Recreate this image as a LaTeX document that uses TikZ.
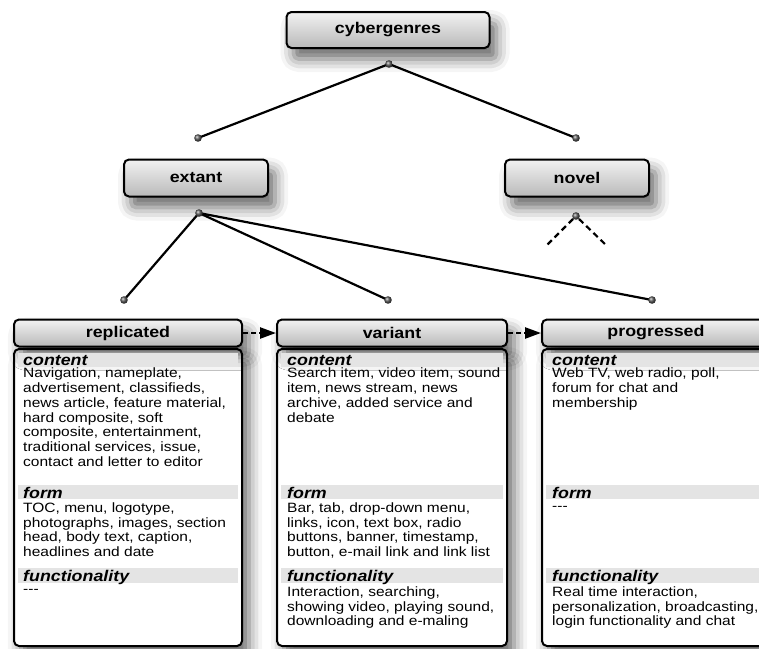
\documentclass[tikz,border=0pt]{standalone}
\usepackage{fontspec}
\setmainfont{Liberation Sans}
\newfontfamily\bodyfont[FakeStretch=1.15]{Liberation Sans}
\newfontfamily\headfont[FakeStretch=1.15]{Liberation Sans}
\usetikzlibrary{arrows.meta,shadows.blur}
\definecolor{bandgray}{RGB}{228,228,228}

\begin{document}
\begin{tikzpicture}[x=1pt,y=-1pt,
    softshadow/.style={blur shadow={shadow xshift=7pt,shadow yshift=-11pt,
        shadow blur radius=13pt,shadow opacity=60}},
    head/.style={draw=black,line width=2pt,rounded corners=5pt,
      top color=gray!10,bottom color=gray!55,softshadow,
      font=\headfont\bfseries\fontsize{15.5}{18}\selectfont},
    body/.style={draw=black,line width=2pt,rounded corners=5pt,fill=white,
      softshadow,minimum width=228pt,minimum height=297pt,anchor=north},
    band/.style={fill=bandgray},
    sect/.style={anchor=base west,inner sep=0pt,
      font=\headfont\bfseries\itshape\fontsize{15.5}{18}\selectfont},
    txt/.style={anchor=north west,inner sep=0pt,align=left,
      font=\bodyfont\fontsize{13.5}{14.7}\selectfont},
    conn/.style={line width=2.2pt},
    flow/.style={line width=2.4pt,dash pattern=on 5pt off 3pt,
      -{Triangle[length=16pt,width=11pt]}},
    knob/.style={ball color=gray!70!black}]
  \useasboundingbox (0,0) rectangle (759,648);

  % tree
  \node[head,minimum width=203pt,minimum height=36pt] (cyber) at (388,30) {cybergenres};
  \node[head,minimum width=144pt,minimum height=37pt] (extant) at (196,178) {extant};
  \node[head,minimum width=144pt,minimum height=37pt] (novel) at (577,178) {novel};

  \coordinate (cgdot) at (389,64);
  \coordinate (exdot) at (198,138);
  \coordinate (nvdot) at (576,138);
  \coordinate (exsub) at (199,213);
  \coordinate (nvsub) at (576,216);
  \coordinate (repdot) at (124,300);
  \coordinate (vardot) at (388,300);
  \coordinate (prodot) at (652,300);
  \coordinate (nvl) at (546,246);
  \coordinate (nvr) at (607,246);

  \draw[conn] (exdot) -- (cgdot) -- (nvdot);
  \draw[conn] (exsub) -- (repdot);
  \draw[conn] (exsub) -- (vardot);
  \draw[conn] (exsub) -- (prodot);
  \draw[conn,dash pattern=on 6pt off 4pt] (nvsub) ++(-3,3) -- (nvl);
  \draw[conn,dash pattern=on 6pt off 4pt] (nvsub) ++(3,3) -- (nvr);
  \foreach \d in {cgdot,exdot,nvdot,exsub,nvsub,repdot,vardot,prodot}
    \shade[knob] (\d) circle (3.8pt);

  % columns
  \node[body] (repbody) at (128,348) {};
  \node[body,minimum width=230pt] (varbody) at (392,348) {};
  \node[body] (probody) at (656,348) {};
  \node[head,minimum width=228pt,minimum height=27pt] (rephead) at (128,333) {replicated};
  \node[head,minimum width=230pt,minimum height=27pt] (varhead) at (392,333) {variant};
  \node[head,minimum width=228pt,minimum height=27pt] (prohead) at (656,333) {progressed};
  \draw[flow] (rephead) -- (varhead);
  \draw[flow] (varhead) -- (prohead);

  \foreach \xl/\xr in {18/238,281/503,546/770} {
    \fill[band] (\xl,353) rectangle (\xr,367);
    \fill[band] (\xl,485) rectangle (\xr,499);
    \fill[band] (\xl,568) rectangle (\xr,583);
  }
  \foreach \xt in {23,287,552} {
    \node[sect] (c\xt) at (\xt,365) {content};
    \node[sect] (f\xt) at (\xt,498) {form};
    \node[sect] (u\xt) at (\xt,581) {functionality};
  }

  % replicated
  \node[txt] (repcont) at (23,367.5) {\strut Navigation, nameplate,\\
    advertisement, classifieds,\\ news article, feature material,\\
    hard composite, soft\\ composite, entertainment,\\
    traditional services, issue,\\ contact and letter to editor};
  \node[txt] (repform) at (23,502) {\strut TOC, menu, logotype,\\
    photographs, images, section\\ head, body text, caption,\\
    headlines and date};
  \node[txt] (repfunc) at (23,583) {\strut -{}-{}-};

  % variant
  \node[txt] (varcont) at (287,367.5) {\strut Search item, video item, sound\\
    item, news stream, news\\ archive, added service and\\ debate};
  \node[txt] (varform) at (287,502) {\strut Bar, tab, drop-down menu,\\
    links, icon, text box, radio\\ buttons, banner, timestamp,\\
    button, e-mail link and link list};
  \node[txt] (varfunc) at (287,586) {\strut Interaction, searching,\\
    showing video, playing sound,\\ downloading and e-maling};

  % progressed
  \node[txt] (procont) at (552,367.5) {\strut Web TV, web radio, poll,\\
    forum for chat and\\ membership};
  \node[txt] (proform) at (552,500) {\strut -{}-{}-};
  \node[txt] (profunc) at (552,586) {\strut Real time interaction,\\
    personalization, broadcasting,\\ login functionality and chat};
\end{tikzpicture}
\end{document}
